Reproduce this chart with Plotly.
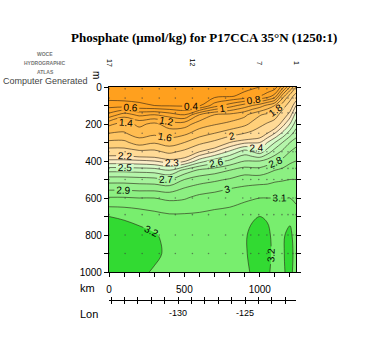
import numpy as np
import plotly.graph_objects as go

# Section grid: distance along track (km) and depth (m)
dist_km = [0, 100, 200, 300, 400, 500, 600, 700, 800, 900, 950, 1000, 1050, 1100, 1150, 1200, 1240]
depth_m = [0, 50, 100, 150, 200, 250, 300, 350, 400, 450, 500, 550, 600, 700, 800, 900, 1000]

# Phosphate (umol/kg), one profile per distance, top to bottom
prof_0    = [0.25, 0.30, 0.52, 0.86, 1.35, 1.60, 1.85, 2.10, 2.33, 2.57, 2.75, 2.88, 3.01, 3.20, 3.25, 3.26, 3.24]
prof_100  = [0.25, 0.30, 0.50, 1.10, 1.48, 1.62, 1.85, 2.10, 2.33, 2.57, 2.75, 2.88, 3.01, 3.19, 3.24, 3.25, 3.23]
prof_200  = [0.25, 0.30, 0.45, 0.95, 1.35, 1.50, 1.70, 2.05, 2.32, 2.56, 2.74, 2.87, 3.00, 3.17, 3.23, 3.24, 3.22]
prof_300  = [0.25, 0.28, 0.40, 1.00, 1.45, 1.55, 1.78, 2.05, 2.30, 2.55, 2.73, 2.87, 3.00, 3.14, 3.21, 3.22, 3.19]
prof_400  = [0.25, 0.28, 0.38, 0.90, 1.30, 1.50, 1.70, 1.95, 2.25, 2.50, 2.70, 2.85, 2.98, 3.12, 3.17, 3.18, 3.17]
prof_500  = [0.25, 0.28, 0.37, 0.80, 1.30, 1.55, 1.80, 2.05, 2.28, 2.63, 2.80, 2.91, 2.99, 3.12, 3.16, 3.17, 3.17]
prof_600  = [0.25, 0.28, 0.37, 1.20, 1.50, 1.70, 1.95, 2.20, 2.45, 2.72, 2.85, 2.95, 3.03, 3.12, 3.15, 3.16, 3.17]
prof_700  = [0.30, 0.35, 0.70, 1.40, 1.58, 1.80, 2.05, 2.30, 2.55, 2.75, 2.88, 2.97, 3.05, 3.13, 3.16, 3.17, 3.17]
prof_800  = [0.32, 0.38, 0.90, 1.45, 1.65, 1.90, 2.20, 2.42, 2.62, 2.80, 2.91, 3.00, 3.06, 3.14, 3.17, 3.17, 3.17]
prof_900  = [0.35, 0.45, 1.10, 1.55, 1.75, 2.00, 2.28, 2.55, 2.70, 2.85, 2.95, 3.02, 3.08, 3.17, 3.19, 3.19, 3.18]
prof_950  = [0.37, 0.50, 1.20, 1.68, 1.85, 2.05, 2.29, 2.50, 2.70, 2.84, 2.95, 3.03, 3.09, 3.19, 3.22, 3.22, 3.21]
prof_1000 = [0.40, 0.60, 1.30, 1.78, 1.95, 2.10, 2.30, 2.45, 2.70, 2.84, 2.95, 3.04, 3.10, 3.20, 3.23, 3.23, 3.22]
prof_1050 = [0.45, 0.70, 1.45, 1.85, 2.02, 2.20, 2.40, 2.55, 2.74, 2.87, 2.96, 3.04, 3.10, 3.19, 3.22, 3.22, 3.21]
prof_1100 = [0.50, 0.90, 1.60, 1.90, 2.10, 2.30, 2.50, 2.65, 2.78, 2.90, 2.98, 3.05, 3.10, 3.15, 3.17, 3.18, 3.18]
prof_1150 = [0.90, 1.50, 1.90, 2.10, 2.25, 2.42, 2.60, 2.72, 2.83, 2.92, 2.99, 3.05, 3.10, 3.16, 3.19, 3.19, 3.19]
prof_1200 = [1.40, 1.90, 2.10, 2.25, 2.40, 2.55, 2.70, 2.80, 2.88, 2.95, 3.00, 3.05, 3.10, 3.18, 3.22, 3.23, 3.22]
prof_1240 = [1.80, 2.10, 2.30, 2.45, 2.55, 2.65, 2.75, 2.85, 2.90, 2.95, 3.00, 3.05, 3.08, 3.14, 3.16, 3.17, 3.17]

profiles = [prof_0, prof_100, prof_200, prof_300, prof_400, prof_500, prof_600, prof_700, prof_800,
            prof_900, prof_950, prof_1000, prof_1050, prof_1100, prof_1150, prof_1200, prof_1240]

# Stations along the track (km) and their numbers
station_km = [0, 107, 220, 333, 440, 553, 660, 773, 887, 940, 993, 1047, 1093, 1147, 1187, 1220, 1240]
station_no = list(range(17, 0, -1))
labelled_stations = [17, 12, 7, 1]
sample_depths = [10, 60, 140, 250, 350, 440, 500, 600, 690, 800, 900]

lon_ticks = list(range(-135, -121))
lon_labelled = [-130, -125]

z = np.array(profiles).T  # rows = depth, cols = distance

# Fill colours per band (lower bound of band -> colour)
band_lo = [-1, 0.4, 0.6, 0.8, 1.0, 1.2, 1.4, 1.6, 1.8, 2.0, 2.2, 2.3, 2.4, 2.5, 2.6, 2.7, 2.8, 2.9, 3.0, 3.1, 3.2]
band_rgb = ["rgb(255,160,30)", "rgb(255,163,35)", "rgb(255,166,40)", "rgb(255,170,48)", "rgb(255,175,56)",
            "rgb(255,180,66)", "rgb(255,188,80)", "rgb(255,198,100)", "rgb(255,208,122)", "rgb(255,218,150)",
            "rgb(255,228,180)", "rgb(250,238,200)", "rgb(215,250,200)", "rgb(195,248,185)", "rgb(180,245,170)",
            "rgb(165,243,155)", "rgb(150,240,140)", "rgb(140,240,130)", "rgb(130,240,120)", "rgb(120,238,110)",
            "rgb(50,218,50)"]

f_start, f_end, f_size = 0.4, 3.2, 0.1
n_lev = int(round((f_end - f_start) / f_size)) + 1
colorscale = []
for k in range(n_lev + 1):
    lo = -1 if k == 0 else f_start + (k - 1) * f_size
    idx = max(i for i, b in enumerate(band_lo) if b <= lo + 1e-6)
    colorscale.append([k / n_lev, band_rgb[idx]])

fig = go.Figure()

fig.add_trace(go.Contour(
    x=dist_km, y=depth_m, z=z,
    autocontour=False,
    contours=dict(start=f_start, end=f_end, size=f_size, coloring="fill", showlines=False),
    colorscale=colorscale, showscale=False,
    line=dict(width=0, smoothing=1.0), hoverinfo="skip",
))

line_sets = [(0.4, 2.2, 0.2), (2.3, 3.2, 0.1)]
for s, e, d in line_sets:
    fig.add_trace(go.Contour(
        x=dist_km, y=depth_m, z=z,
        autocontour=False,
        contours=dict(start=s, end=e, size=d, coloring="none", showlabels=True,
                      labelfont=dict(family="Liberation Sans", size=10, color="black")),
        line=dict(color="rgba(40,30,20,0.85)", width=0.7, smoothing=1.0),
        showscale=False, hoverinfo="skip",
    ))

# Sample positions
sx, sy = [], []
for km in station_km:
    for dm in sample_depths:
        sx.append(km)
        sy.append(dm)
fig.add_trace(go.Scatter(x=sx, y=sy, mode="markers",
                         marker=dict(size=1.6, color="rgba(60,60,60,0.6)"), hoverinfo="skip"))

# Station markers above the section
big = [km for km, n in zip(station_km, station_no) if n in labelled_stations]
small = [km for km, n in zip(station_km, station_no) if n not in labelled_stations]
fig.add_trace(go.Scatter(x=small, y=[-65] * len(small), mode="markers", cliponaxis=False,
                         marker=dict(symbol="cross-thin", size=6, line=dict(width=1, color="#7f9f60")),
                         hoverinfo="skip"))
fig.add_trace(go.Scatter(x=big, y=[-65] * len(big), mode="markers", cliponaxis=False,
                         marker=dict(symbol="cross-thin", size=9, line=dict(width=1, color="#6f8f50")),
                         hoverinfo="skip"))

W, H = 375, 350
ml, mr, mt, mb = 109, 79, 87, 30
pw, ph = W - ml - mr, H - mt - mb


def px(xp):
    return (xp - ml) / pw


def py(yp):
    return (H - mb - yp) / ph


annotations = []
for km, n in zip(station_km, station_no):
    if n in labelled_stations:
        annotations.append(dict(x=km, y=py(63), xref="x", yref="paper", text=str(n),
                                textangle=90, font=dict(family="Liberation Sans", size=7, color="black")))

annotations += [
    dict(x=px(204), y=py(37), text="<b>Phosphate (µmol/kg) for P17CCA 35°N (1250:1)</b>",
         font=dict(family="Liberation Serif", size=13, color="black")),
    dict(x=px(45), y=py(54), text="<b>WOCE</b>", font=dict(family="Liberation Sans", size=5, color="#777")),
    dict(x=px(45), y=py(63), text="<b>HYDROGRAPHIC</b>", font=dict(family="Liberation Sans", size=5, color="#777")),
    dict(x=px(45), y=py(72), text="<b>ATLAS</b>", font=dict(family="Liberation Sans", size=5, color="#777")),
    dict(x=px(45), y=py(81), text="Computer Generated", font=dict(family="Liberation Sans", size=9, color="#444")),
    dict(x=px(97), y=py(75), text="m", textangle=90, font=dict(family="Liberation Sans", size=10, color="black")),
    dict(x=px(87), y=py(288), text="km", font=dict(family="Liberation Sans", size=11, color="black")),
    dict(x=px(89), y=py(314), text="Lon", font=dict(family="Liberation Sans", size=11, color="black")),
]
for a in annotations:
    a.setdefault("xref", "paper")
    a.setdefault("yref", "paper")
    a["showarrow"] = False
    a["xanchor"] = "center"
    a["yanchor"] = "middle"

tick_font = dict(family="Liberation Sans", size=10, color="black")
lon_range = [-135.15, -121.2]

fig.update_layout(
    width=W, height=H, margin=dict(l=ml, r=mr, t=mt, b=mb),
    paper_bgcolor="white", plot_bgcolor="white", showlegend=False,
    annotations=annotations,
    xaxis=dict(range=[0, 1240], domain=[0, 1], anchor="y", showgrid=False, zeroline=False,
               showline=True, linecolor="black", linewidth=1.2, mirror=True,
               tickvals=[0, 500, 1000], ticks="outside", ticklen=4, tickcolor="black",
               minor=dict(dtick=100, ticks="outside", ticklen=4, tickcolor="black"),
               tickfont=tick_font, ticklabelstandoff=4),
    yaxis=dict(range=[1000, 0], domain=[py(272), 1], anchor="x", showgrid=False, zeroline=False,
               showline=True, linecolor="black", linewidth=1.2, mirror="allticks",
               tickvals=[0, 200, 400, 600, 800, 1000], ticks="outside", ticklen=4, tickcolor="black",
               minor=dict(dtick=100, ticks="outside", ticklen=3, tickcolor="black"),
               tickfont=tick_font),
    xaxis2=dict(range=lon_range, anchor="free", position=py(300), overlaying="x", side="bottom",
                showgrid=False, zeroline=False, showline=True, linecolor="black", linewidth=1,
                tickvals=lon_ticks, ticktext=[str(v) if v in lon_labelled else "" for v in lon_ticks],
                ticks="outside", ticklen=3, tickcolor="black",
                tickfont=dict(family="Liberation Sans", size=9, color="black"), ticklabelstandoff=1),
    xaxis3=dict(range=lon_range, anchor="free", position=py(300), overlaying="x", side="bottom",
                showgrid=False, zeroline=False, showline=False,
                tickvals=lon_ticks, showticklabels=False,
                ticks="inside", ticklen=3, tickcolor="black"),
)

# Empty traces so the longitude axes are drawn
fig.add_trace(go.Scatter(x=lon_range, y=[None, None], xaxis="x2", yaxis="y", mode="lines", hoverinfo="skip"))
fig.add_trace(go.Scatter(x=lon_range, y=[None, None], xaxis="x3", yaxis="y", mode="lines", hoverinfo="skip"))

fig.write_html("out.html")
